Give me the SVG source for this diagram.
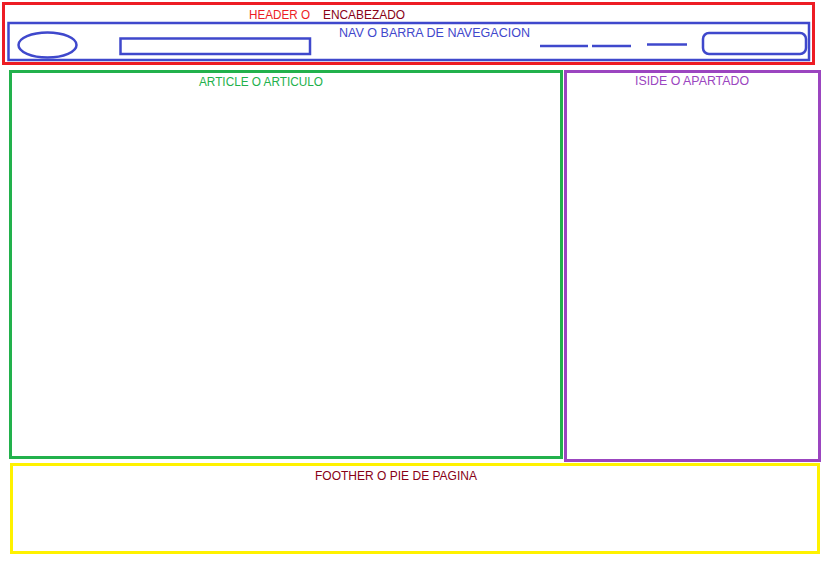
<svg xmlns="http://www.w3.org/2000/svg" width="825" height="562" viewBox="0 0 825 562">
<style>
  .box{fill:none}
  text{font-family:"Liberation Sans","DejaVu Sans",sans-serif;font-size:12.5px}
  .nav{stroke:#3F48CC;stroke-width:2.5;fill:none}
</style>
<rect width="825" height="562" fill="#ffffff"/>
<g id="header">
  <rect class="box" x="3.5" y="3.5" width="810" height="60" stroke="#ED1C24" stroke-width="3"/>
  <text x="249" y="19" fill="#ED1C24" textLength="61" lengthAdjust="spacingAndGlyphs">HEADER O</text>
  <text x="323" y="19" fill="#880015" textLength="82" lengthAdjust="spacingAndGlyphs">ENCABEZADO</text>
</g>
<g id="nav">
  <rect class="nav" x="8.5" y="23" width="800.5" height="37"/>
  <text x="339" y="37" fill="#3F48CC" textLength="191" lengthAdjust="spacingAndGlyphs">NAV O BARRA DE NAVEGACION</text>
  <ellipse class="nav" cx="47.5" cy="45" rx="29" ry="12.5"/>
  <rect class="nav" x="120.5" y="38.5" width="189.5" height="15.5"/>
  <line class="nav" x1="540" y1="46" x2="588" y2="46"/>
  <line class="nav" x1="592" y1="46" x2="631" y2="46"/>
  <line class="nav" x1="647" y1="44.5" x2="687" y2="44.5"/>
  <rect class="nav" x="703" y="33" width="103" height="21" rx="6"/>
</g>
<g id="article">
  <rect class="box" x="10.5" y="71.5" width="551" height="386" stroke="#22B14C" stroke-width="3"/>
  <text x="199" y="86" fill="#22B14C" textLength="124" lengthAdjust="spacingAndGlyphs">ARTICLE O ARTICULO</text>
</g>
<g id="aside">
  <rect class="box" x="565.5" y="71.5" width="254" height="389" stroke="#9B45C0" stroke-width="3"/>
  <text x="635" y="85" fill="#9B45C0" textLength="114" lengthAdjust="spacingAndGlyphs">ISIDE O APARTADO</text>
</g>
<g id="footer">
  <rect class="box" x="11.5" y="464.5" width="807" height="88" stroke="#FFF200" stroke-width="3"/>
  <text x="315" y="480" fill="#880015" textLength="162" lengthAdjust="spacingAndGlyphs">FOOTHER O PIE DE PAGINA</text>
</g>
<g id="connectors"></g>
</svg>
